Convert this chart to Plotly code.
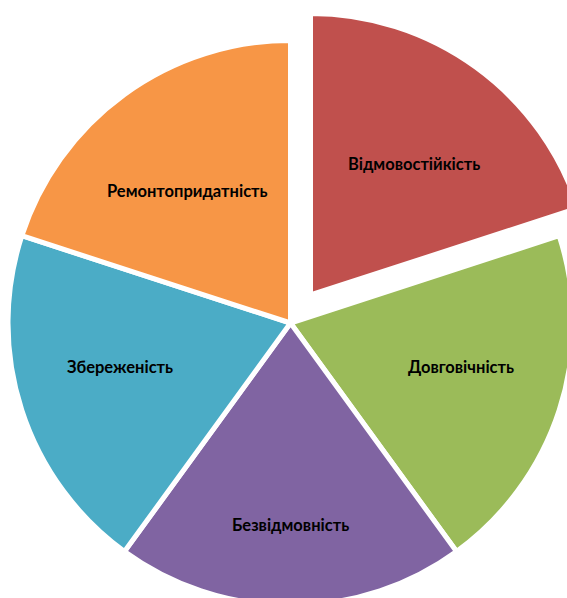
import plotly.graph_objects as go

# ---- data ----
categories = ["Відмовостійкість", "Довговічність", "Безвідмовність", "Збереженість", "Ремонтопридатність"]
values = [20, 20, 20, 20, 20]
colors = ["#C0504D", "#9BBB59", "#8064A2", "#4BACC6", "#F79646"]
exploded = "Відмовостійкість"

# ---- layout geometry (pixels) ----
W, H = 600, 610
main_cx, main_cy, main_r = 290.5, 323.0, 282.5
pull_cx, pull_cy, pull_r = 310.5, 295.0, 281.5
BORDER = 5
# label centre positions in page pixels (layout only)
label_pos = {
    "Відмовостійкість": (414, 164),
    "Довговічність": (461, 367),
    "Безвідмовність": (290, 525),
    "Збереженість": (120, 367),
    "Ремонтопридатність": (187, 191),
}


def domain(cx, cy, r):
    return dict(x=[(cx - r) / W, (cx + r) / W],
                y=[1 - (cy + r) / H, 1 - (cy - r) / H])


TRANSP = "rgba(0,0,0,0)"
main_colors = [TRANSP if c == exploded else col for c, col in zip(categories, colors)]
main_lines = [TRANSP if c == exploded else "white" for c in categories]
pull_colors = [col if c == exploded else TRANSP for c, col in zip(categories, colors)]
pull_lines = ["white" if c == exploded else TRANSP for c in categories]

font = dict(family="Lato, 'Open Sans', sans-serif", size=16.5, color="black", weight="bold")

fig = go.Figure()
fig.add_trace(go.Pie(
    labels=categories, values=values, sort=False, direction="clockwise", rotation=0,
    marker=dict(colors=main_colors, line=dict(color=main_lines, width=BORDER)),
    textinfo="none", hoverinfo="skip", showlegend=False,
    domain=domain(main_cx, main_cy, main_r),
))
fig.add_trace(go.Pie(
    labels=categories, values=values, sort=False, direction="clockwise", rotation=0,
    marker=dict(colors=pull_colors, line=dict(color=pull_lines, width=BORDER)),
    textinfo="none", hoverinfo="skip", showlegend=False,
    domain=domain(pull_cx, pull_cy, pull_r),
))
for c in categories:
    px, py = label_pos[c]
    fig.add_annotation(
        text=c, x=px / W, y=1 - py / H, xref="paper", yref="paper",
        xanchor="center", yanchor="middle", showarrow=False, font=font,
    )
fig.update_layout(
    width=W, height=H, margin=dict(l=0, r=0, t=0, b=0),
    paper_bgcolor="white", plot_bgcolor="white", showlegend=False,
)

fig.write_html(
    "out.html",
    config={"displayModeBar": False, "staticPlot": True},
    post_script="document.body.style.margin='0';document.body.style.overflow='hidden';document.documentElement.style.overflow='hidden';",
)
